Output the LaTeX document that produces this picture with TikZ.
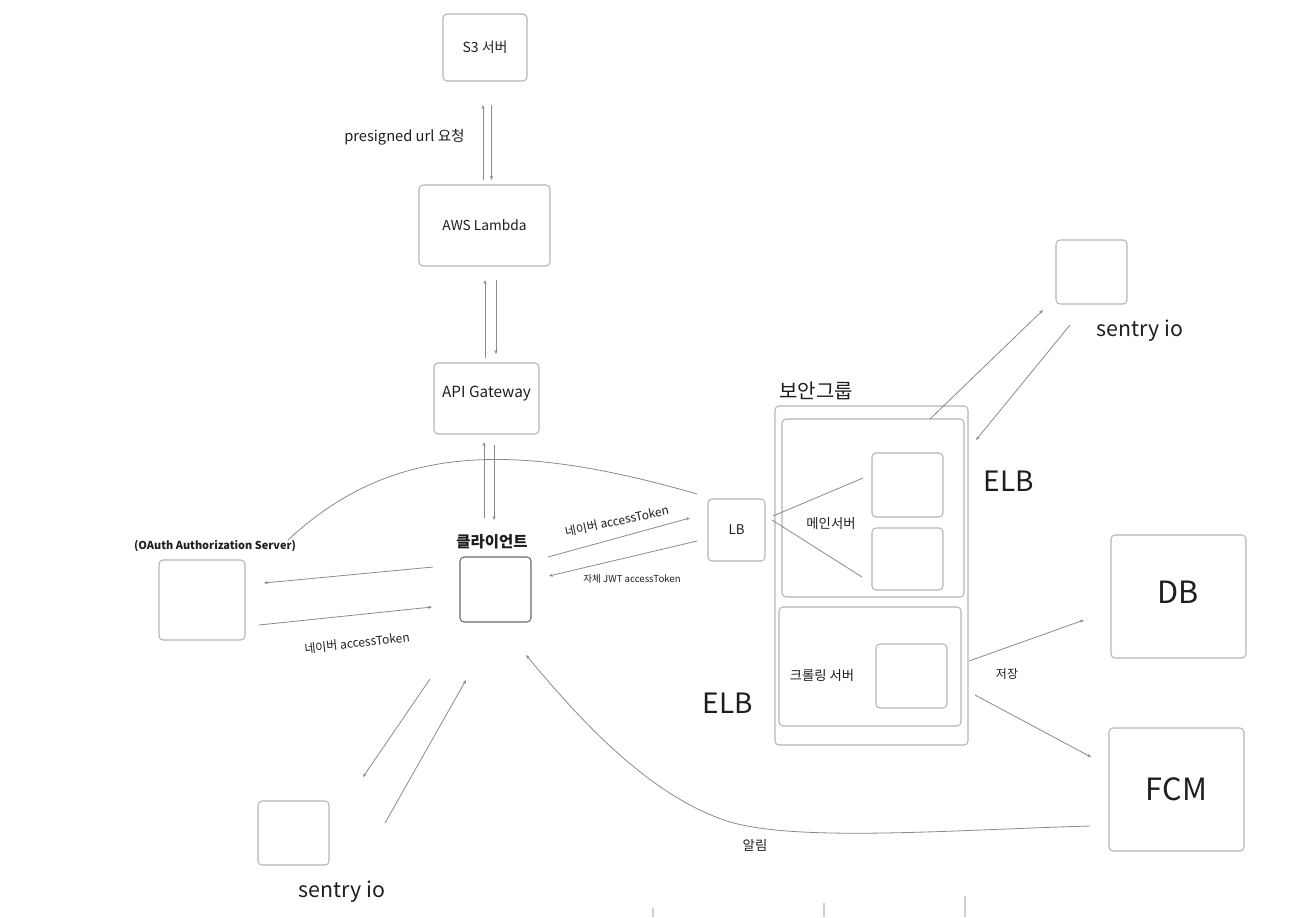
\documentclass[tikz,border=0pt]{standalone}
\usepackage{fontspec}
\setmainfont{Noto Sans CJK KR}
\usepackage{xcolor}
\usetikzlibrary{calc,arrows.meta}
\definecolor{boxgray}{HTML}{B5B5B5}
\definecolor{linegray}{HTML}{8A8A8A}
\definecolor{ink}{HTML}{1E1E1E}
\definecolor{clientgray}{HTML}{6A6A6A}
\definecolor{edgegray}{HTML}{CFCFCF}
\newcommand{\fsz}[1]{\fontsize{#1}{#1}\selectfont}

\begin{document}
\begin{tikzpicture}[x=0.75pt, y=-0.75pt,
  box/.style={draw=boxgray, rounded corners=3pt, line width=0.8pt, inner sep=0pt, outer sep=0pt, text=ink},
  wh/.style 2 args={minimum width=#1*0.75pt, minimum height=#2*0.75pt},
  link/.style={draw=linegray, line width=0.6pt},
  arr/.style={link, -{Stealth[length=3pt, width=2.4pt]}},
  lbl/.style={text=ink, inner sep=0pt}]
  \useasboundingbox (0,0) rectangle (1298,917);

  % upper chain
  \node[box, wh={84}{67}, font=\fsz{10.5}] (s3) at (485,47.5) {S3 서버};
  \node[box, wh={131}{81}, font=\fsz{10.3}] (lambda) at (484.5,225.5) {AWS Lambda};
  \node[box, wh={105}{71}, label={[lbl, font=\fsz{11.5}, yshift=4pt]center:API Gateway}] (api) at (486.5,398.5) {};
  \node[lbl, font=\fsz{11}, anchor=east] (presig) at (465,137) {presigned url 요청};

  % client and oauth
  \node[box, draw=clientgray, wh={71}{65}] (client) at (495.5,589.5) {};
  \node[lbl, font=\bfseries\fsz{11.6}] (clientt) at (492,542) {클라이언트};
  \node[box, wh={86}{80}] (oauth) at (202,600) {};
  \node[lbl, font=\bfseries\fsz{8.2}] (oautht) at (215,546) {(OAuth Authorization Server)};
  \node[lbl, font=\fsz{9}, rotate=6.5] (tokoauth) at (357,643) {네이버 accessToken};

  % load balancer
  \node[box, wh={57}{62}, font=\fsz{10}] (lb) at (736.5,530) {LB};
  \node[lbl, font=\fsz{9}, rotate=12] (toklb) at (617,521) {네이버 accessToken};
  \node[lbl, font=\fsz{7.2}] (jwt) at (632,579) {자체 JWT accessToken};

  % security group
  \node[lbl, font=\fsz{15}] (sgt) at (816,391) {보안그룹};
  \node[box, wh={193}{339}] (sg) at (871.5,575.5) {};
  \node[box, wh={182}{178}] (maingrp) at (873,508) {};
  \node[box, wh={71}{64}] (main1) at (907.5,485) {};
  \node[box, wh={71}{62}] (main2) at (907.5,559) {};
  \node[lbl, font=\fsz{10}] (maint) at (831,524) {메인서버};
  \node[box, wh={182}{119}] (crawlgrp) at (870,666.5) {};
  \node[box, wh={71}{64}] (crawl) at (911.5,676) {};
  \node[lbl, font=\fsz{10}] (crawlt) at (822,676) {크롤링 서버};
  \node[lbl, font=\fsz{21}] (elbr) at (1009,481) {ELB};
  \node[lbl, font=\fsz{21}] (elbl) at (728,703) {ELB};

  % right side
  \node[box, wh={71}{64}] (sentrya) at (1091.5,272) {};
  \node[lbl, font=\fsz{16}] (sentryat) at (1140,331) {sentry io};
  \node[box, wh={135}{123}, label={[lbl, font=\fsz{23}, yshift=3pt]center:DB}] (db) at (1178.5,596.5) {};
  \node[box, wh={135}{123}, font=\fsz{23}] (fcm) at (1176.5,789.5) {FCM};
  \node[lbl, font=\fsz{9}] (save) at (1007,674) {저장};
  \node[lbl, font=\fsz{10}] (notify) at (755,845) {알림};

  % bottom sentry
  \node[box, wh={71}{64}] (sentryb) at (293.5,833) {};
  \node[lbl, font=\fsz{16}] (sentrybt) at (342,892) {sentry io};

  % connectors
  \draw[arr] ($(lambda.north)+(-1.5,-5)$) -- ($(s3.south)+(-2,24)$);
  \draw[arr] ($(s3.south)+(6.5,24)$) -- ($(lambda.north)+(7,-5)$);
  \draw[arr] ($(api.north)+(-1.5,-5)$) -- ($(lambda.south)+(0.5,14)$);
  \draw[arr] ($(lambda.south)+(11.5,14)$) -- ($(api.north)+(9.5,-9)$);
  \draw[arr] ($(client.north)+(-11.5,-39)$) -- ($(api.south)+(-2.5,8)$);
  \draw[arr] ($(api.south)+(7.5,11)$) -- ($(client.north)+(-1.5,-37)$);
  \draw[arr] ($(client.west)+(-27,-22.5)$) -- ($(oauth.east)+(19,-17)$);
  \draw[arr] ($(oauth.east)+(14,25)$) -- ($(client.west)+(-28,17.5)$);
  \draw[link] ($(oauth.north east)+(43,-20)$) .. controls (390,445) and (510,440) .. ($(lb.north west)+(-11,-5)$);
  \draw[arr] ($(client.north east)+(17,0)$) -- ($(lb.west)+(-18,-12)$);
  \draw[arr] ($(lb.west)+(-11,11)$) -- ($(client.east)+(18,-13.5)$);
  \draw[link] ($(lb.east)+(8,-14)$) -- ($(main1.west)+(-9,-7)$);
  \draw[link] ($(lb.east)+(7,-10)$) -- ($(main2.west)+(-10,18)$);
  \draw[arr] ($(maingrp.north)+(57,0)$) -- ($(sentrya.south west)+(-13,6)$);
  \draw[arr] ($(sentrya.south west)+(14,21)$) -- ($(sg.north east)+(8,34)$);
  \draw[arr] ($(crawlgrp.east)+(8,-5.5)$) -- ($(db.west)+(-27,23.5)$);
  \draw[arr] ($(crawlgrp.east)+(14,28.5)$) -- ($(fcm.west)+(-18,-32.5)$);
  \draw[arr] ($(fcm.west)+(-19,36.5)$) .. controls (950,830) and (800,842) .. (730,822)
    .. controls (650,797) and (580,720) .. ($(client.south)+(30.5,33)$);
  \draw[arr] ($(client.south)+(-65.5,57)$) -- ($(sentryb.north)+(69.5,-24)$);
  \draw[arr] ($(sentryb.north)+(91.5,22)$) -- ($(client.south)+(-29.5,58)$);

  % edge marks at the bottom
  \draw[edgegray, line width=1pt] (653,908) -- (653,917);
  \draw[edgegray, line width=1pt] (824,903) -- (824,917);
  \draw[edgegray, line width=1pt] (965,896) -- (965,917);
\end{tikzpicture}
\end{document}
